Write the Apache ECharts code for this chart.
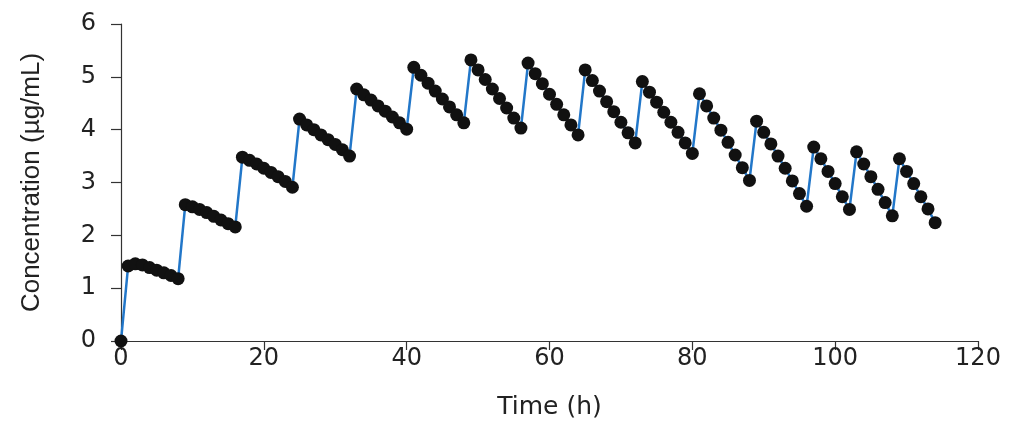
<!DOCTYPE html>
<html>
<head>
<meta charset="utf-8">
<title>Concentration vs time</title>
<script src="https://cdn.jsdelivr.net/npm/echarts@6/dist/echarts.min.js"></script>
<style>
  html, body { margin: 0; padding: 0; background: #fff; }
  #chart { width: 1011px; height: 425px; }
</style>
</head>
<body>
<div id="chart"></div>
<script>
// hourly samples, dose every 8 h then every 6 h near the end
var timeH = [
  0, 1, 2, 3, 4, 5, 6, 7, 8, 9, 10, 11, 12, 13, 14, 15, 16, 17, 18, 19,
  20, 21, 22, 23, 24, 25, 26, 27, 28, 29, 30, 31, 32, 33, 34, 35, 36, 37, 38, 39,
  40, 41, 42, 43, 44, 45, 46, 47, 48, 49, 50, 51, 52, 53, 54, 55, 56, 57, 58, 59,
  60, 61, 62, 63, 64, 65, 66, 67, 68, 69, 70, 71, 72, 73, 74, 75, 76, 77, 78, 79,
  80, 81, 82, 83, 84, 85, 86, 87, 88, 89, 90, 91, 92, 93, 94, 95, 96, 97, 98, 99,
  100, 101, 102, 103, 104, 105, 106, 107, 108, 109, 110, 111, 112, 113, 114
]
var concentration = [
  0, 1.42, 1.46, 1.44, 1.39, 1.34, 1.29, 1.24, 1.18,
  2.58, 2.54, 2.49, 2.43, 2.36, 2.29, 2.22, 2.16,
  3.48, 3.42, 3.35, 3.27, 3.19, 3.11, 3.02, 2.91,
  4.20, 4.09, 4.00, 3.90, 3.81, 3.72, 3.62, 3.50,
  4.77, 4.66, 4.56, 4.45, 4.35, 4.24, 4.13, 4.01,
  5.18, 5.03, 4.88, 4.73, 4.58, 4.43, 4.28, 4.13,
  5.32, 5.13, 4.95, 4.77, 4.59, 4.41, 4.22, 4.03,
  5.26, 5.06, 4.87, 4.67, 4.48, 4.28, 4.09, 3.90,
  5.13, 4.93, 4.73, 4.53, 4.34, 4.14, 3.94, 3.75,
  4.91, 4.71, 4.52, 4.33, 4.14, 3.95, 3.75, 3.55,
  4.68, 4.45, 4.22, 3.99, 3.76, 3.52, 3.28, 3.04,
  4.16, 3.95, 3.73, 3.50, 3.27, 3.03, 2.79, 2.55,
  3.67, 3.45, 3.21, 2.98, 2.73, 2.49,
  3.58, 3.35, 3.11, 2.87, 2.62, 2.37,
  3.45, 3.21, 2.98, 2.73, 2.50, 2.24
]
var xTicks = { min: 0, max: 120, interval: 20 }
var yTicks = { min: 0, max: 6, interval: 1 }

var points = timeH.map(function (t, i) { return [t, concentration[i]] })

var axisColor = '#333'
var labelFont = 'DejaVu Sans'

var chart = echarts.init(document.getElementById('chart'), null, { renderer: 'canvas' })
chart.setOption({
  backgroundColor: '#fff',
  animation: false,
  grid: {
    left: 121,
    right: 33,
    top: 24,
    bottom: 83
  },
  xAxis: {
    type: 'value',
    min: xTicks.min,
    max: xTicks.max,
    interval: xTicks.interval,
    name: 'Time (h)',
    nameLocation: 'middle',
    nameGap: 54,
    nameTextStyle: { fontFamily: labelFont, fontSize: 25, color: '#222' },
    axisLine: { show: true, lineStyle: { color: axisColor, width: 1.2 } },
    axisTick: { show: true, length: 9, lineStyle: { color: axisColor, width: 1.2 } },
    axisLabel: { margin: 6, fontFamily: labelFont, fontSize: 24, color: '#222' },
    splitLine: { show: false }
  },
  yAxis: {
    type: 'value',
    min: yTicks.min,
    max: yTicks.max,
    interval: yTicks.interval,
    name: 'Concentration (\u00b5g/mL)',
    nameLocation: 'middle',
    nameGap: 76,
    nameRotate: 90,
    nameTextStyle: { fontFamily: 'Liberation Sans Narrow, Liberation Sans', fontSize: 26, color: '#222' },
    axisLine: { show: true, lineStyle: { color: axisColor, width: 1.2 } },
    axisTick: { show: true, length: 10, lineStyle: { color: axisColor, width: 1.2 } },
    axisLabel: { margin: 25, fontFamily: labelFont, fontSize: 24, color: '#222' },
    splitLine: { show: false }
  },
  series: [{
    type: 'line',
    data: points,
    symbol: 'circle',
    symbolSize: 13,
    showAllSymbol: true,
    lineStyle: { color: '#2277c9', width: 2.5 },
    itemStyle: { color: '#111', borderWidth: 0 }
  }]
})
</script>
</body>
</html>
